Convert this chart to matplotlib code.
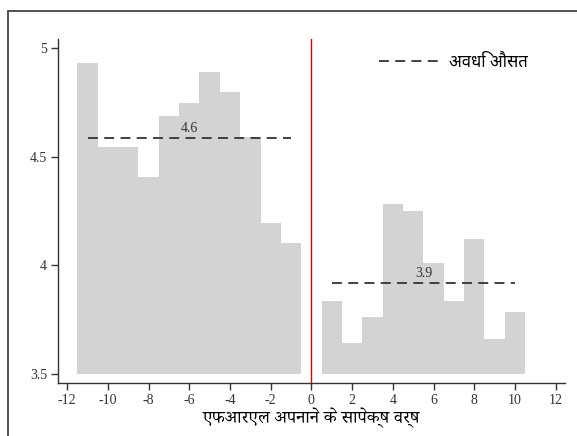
import matplotlib
matplotlib.use("Agg")
import matplotlib.pyplot as plt
from matplotlib.patches import Rectangle
import numpy as np

# years relative to FRL adoption, and the mean outcome in each year
years_before = [-11, -10, -9, -8, -7, -6, -5, -4, -3, -2, -1]
values_before = [4.93, 4.543, 4.546, 4.404, 4.688, 4.748, 4.887, 4.798, 4.592, 4.193, 4.104]
years_after = [1, 2, 3, 4, 5, 6, 7, 8, 9, 10]
values_after = [3.835, 3.642, 3.763, 4.283, 4.251, 4.012, 3.835, 4.122, 3.661, 3.784]

x_ticks = [-12, -10, -8, -6, -4, -2, 0, 2, 4, 6, 8, 10, 12]
y_ticks = [3.5, 4, 4.5, 5]
y_tick_labels = ["3.5", "4", "4.5", "5"]

x_label = "एफआरएल अपनाने के सापेक्ष वर्ष"
legend_label = "अवधि औसत"

serif = ["Liberation Serif", "DejaVu Serif"]
deva_serif = ["Noto Serif Devanagari", "FreeSerif", "Liberation Serif"]
deva_sans = ["Noto Sans Devanagari", "FreeSans", "DejaVu Sans"]

base = 3.5
bar_color = "#d3d3d3"
mean_color = "#333333"

fig = plt.figure(figsize=(5.77, 4.36), dpi=100)
ax = fig.add_axes([0.1005, 0.1216, 0.8785, 0.789])

ax.bar(years_before, np.array(values_before) - base, bottom=base, width=1.0,
       color=bar_color, linewidth=0)
ax.bar(years_after, np.array(values_after) - base, bottom=base, width=1.0,
       color=bar_color, linewidth=0)

# period averages as dashed lines with their value above
for yrs, vals in [(years_before, values_before), (years_after, values_after)]:
    m = float(np.mean(vals))
    ax.plot([yrs[0], yrs[-1]], [m, m], color=mean_color, linestyle=(0, (5.5, 3.5)),
            linewidth=1.3, label=legend_label if yrs[0] < 0 else None)
    ax.text((yrs[0] + yrs[-1]) / 2, m + 0.015, "%.1f" % m, ha="center", va="bottom",
            fontsize=10, family=serif, color="#333333")

ax.axvline(0, color="#e00000", linewidth=1.0)

ax.set_xlim(-12.45, 12.45)
ax.set_ylim(3.46, 5.04)
ax.set_xticks(x_ticks)
ax.set_xticklabels([str(t) for t in x_ticks], family=serif, fontsize=10, color="#333333")
ax.set_yticks(y_ticks)
ax.set_yticklabels(y_tick_labels, family=serif, fontsize=10, color="#333333")
ax.tick_params(direction="out", length=5, width=1, color="#333333", pad=3)

for side in ["top", "right"]:
    ax.spines[side].set_visible(False)
for side in ["left", "bottom"]:
    ax.spines[side].set_color("#333333")
    ax.spines[side].set_linewidth(1.0)

ax.set_xlabel(x_label, family=deva_serif, fontsize=13, labelpad=0.5)

leg = ax.legend(loc="upper right", bbox_to_anchor=(0.956, 0.998), frameon=False,
                handlelength=3.6, handletextpad=0.6, prop={"family": deva_sans, "size": 12})

# outer frame around the figure
fig.add_artist(Rectangle((8 / 577, -0.1), 1.2, 1.1 - 11 / 436, transform=fig.transFigure,
                         fill=False, edgecolor="#444444", linewidth=1.3, clip_on=False))

fig.savefig("out.png", dpi=100)
